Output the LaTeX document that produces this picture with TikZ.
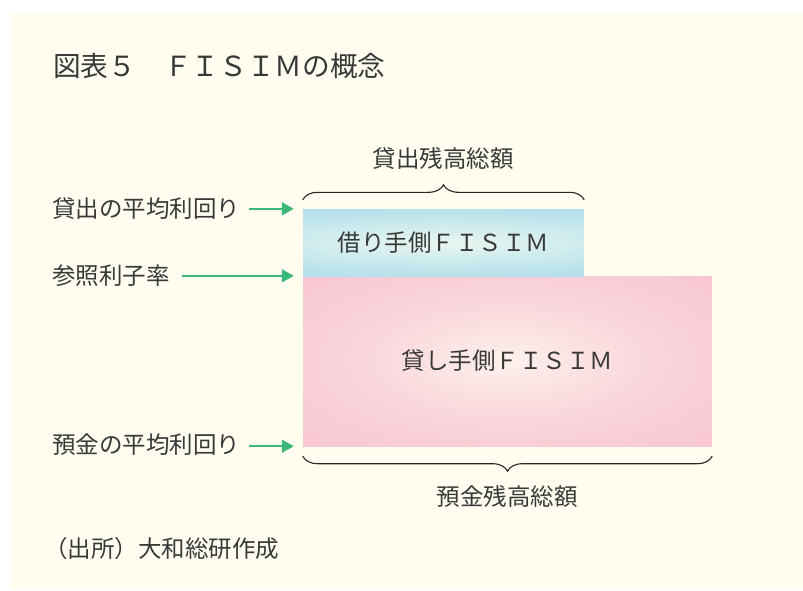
\documentclass[tikz,border=0pt]{standalone}
\usepackage{fontspec}
\setmainfont{Noto Sans CJK JP}
\usetikzlibrary{arrows.meta,decorations.pathreplacing}
\definecolor{cream}{HTML}{FFFDF0}
\definecolor{txt}{HTML}{383838}
\definecolor{arrgreen}{HTML}{3BB77A}
\definecolor{bA}{HTML}{E8F6EF}
\definecolor{bB}{HTML}{DCF1EF}
\definecolor{bC}{HTML}{BBE3EC}
\definecolor{bD}{HTML}{9BD5E8}
\definecolor{pA}{HTML}{FDF3EC}
\definecolor{pB}{HTML}{FCEAE8}
\definecolor{pC}{HTML}{FAD5DB}
\definecolor{pD}{HTML}{F7C4D0}
\definecolor{pE}{HTML}{F4AEC3}
\pgfdeclareradialshading{pinkshade}{\pgfpoint{0bp}{0bp}}{color(0bp)=(pA); color(4bp)=(pB); color(18bp)=(pC); color(38bp)=(pD); color(60bp)=(pE); color(100bp)=(pE)}
\pgfdeclareradialshading{blueshade}{\pgfpoint{0bp}{0bp}}{color(0bp)=(bA); color(6bp)=(bB); color(22bp)=(bC); color(42bp)=(bD); color(100bp)=(bD)}
\tikzset{
  lbl/.style={inner sep=0pt, text=txt, font=\fontsize{23.5pt}{28pt}\selectfont},
  ttl/.style={inner sep=0pt, text=txt, font=\fontsize{27.7pt}{32pt}\selectfont},
  arr/.style={draw=arrgreen, line width=2pt, -{Triangle[length=12pt,width=13pt]}},
  brc/.style={draw=black!85, line width=1.1pt, decorate, decoration={brace, amplitude=15pt}},
  bluebox/.style={inner sep=0pt, minimum width=281pt, minimum height=67pt, text=txt, font=\fontsize{23.5pt}{28pt}\selectfont,
    path picture={\shade[shading=blueshade] ([xshift=-140pt]path picture bounding box.south west) rectangle ([xshift=140pt]path picture bounding box.north east);}},
  pinkbox/.style={inner sep=0pt, minimum width=409pt, minimum height=170pt, text=txt, font=\fontsize{23.5pt}{28pt}\selectfont,
    shading=pinkshade}
}
\begin{document}
\begin{tikzpicture}[x=1pt,y=-1pt]
\useasboundingbox (0,0) rectangle (803,590);
\fill[white] (0,0) rectangle (803,590);
\fill[cream] (10,13) rectangle (803,590);

\node[ttl, anchor=west] (title) at (53,66) {図表５　ＦＩＳＩＭの概念};

\node[pinkbox] (dep) at (507.5,361) {貸し手側ＦＩＳＩＭ};
\node[bluebox] (loan) at (443.5,242.5) {借り手側ＦＩＳＩＭ};

\node[lbl, anchor=west] (l1) at (52,209) {貸出の平均利回り};
\node[lbl, anchor=west] (l2) at (52,276) {参照利子率};
\node[lbl, anchor=west] (l3) at (52,445) {預金の平均利回り};

\draw[arr] ([xshift=9pt]l1.east |- loan.north west) -- ([xshift=-9pt]loan.north west);
\draw[arr] ([xshift=12pt]l2.east |- dep.north west) -- ([xshift=-9pt]dep.north west);
\draw[arr] ([xshift=9pt]l3.east |- dep.south west) -- ([xshift=-9pt]dep.south west);

\draw[brc] ([yshift=9pt]loan.north west) -- ([yshift=9pt]loan.north east);
\draw[brc, decoration={mirror}] ([yshift=-10pt]dep.south west) -- ([yshift=-10pt]dep.south east);

\node[lbl] (lt) at (443,158) {貸出残高総額};
\node[lbl] (dt) at (507,496) {預金残高総額};

\node[lbl, anchor=west] (src) at (44,549) {（出所）大和総研作成};
\end{tikzpicture}
\end{document}
